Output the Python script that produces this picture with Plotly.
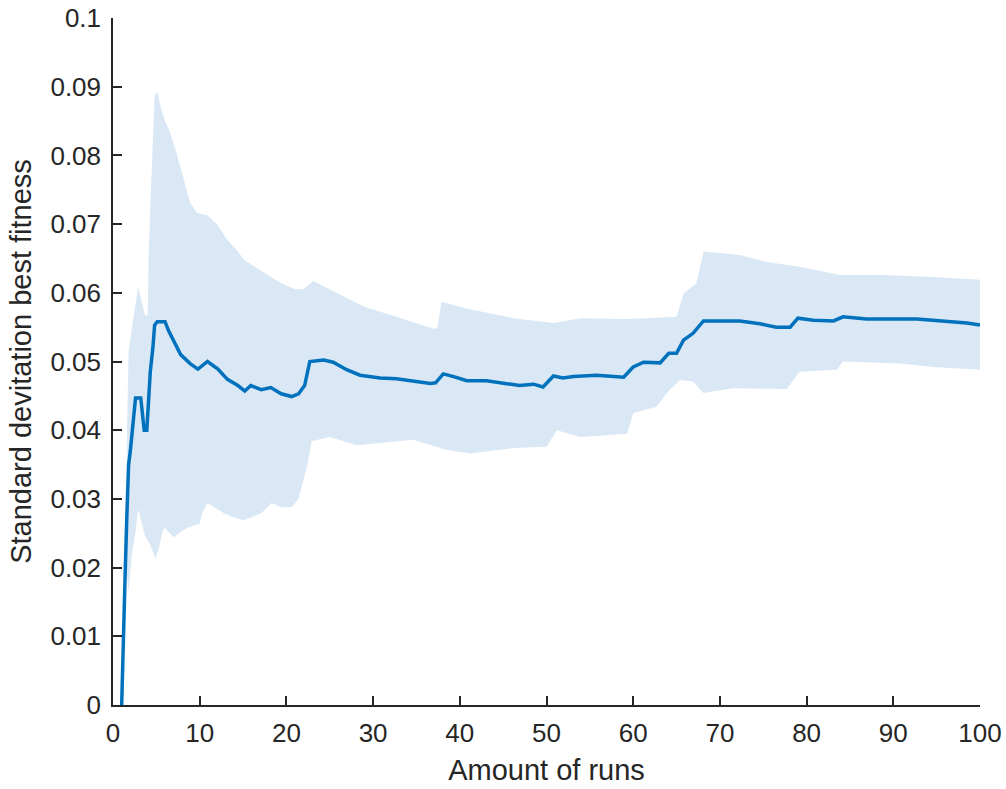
import plotly.graph_objects as go

# Mean curve
mean_x = [1.0, 1.05, 1.2, 1.4, 1.6, 1.8, 2.0, 2.2, 2.4, 2.6, 3.2, 3.4, 3.6, 3.9, 4.1, 4.3, 4.6, 4.8,
          5.1, 6.0, 6.4, 7.0, 7.8, 8.9, 9.8, 10.9, 12.1, 13.2, 14.4, 15.2, 15.9, 17.1, 18.2, 19.4,
          20.6, 21.4, 22.1, 22.7, 24.3, 25.4, 26.95, 28.5, 30.8, 32.7, 34.6, 36.6, 37.2, 38.1, 39.3,
          40.8, 43.1, 45.4, 46.9, 48.5, 49.6, 50.8, 51.9, 53.1, 55.8, 58.9, 60.0, 61.2, 63.1, 64.1,
          65.0, 65.8, 66.9, 68.1, 72.3, 74.6, 76.5, 78.1, 79.0, 80.8, 83.1, 84.2, 86.9, 92.7, 95.8,
          98.5, 100.0]
mean_y = [0.0, 0.003, 0.012, 0.019, 0.0276, 0.035, 0.037, 0.040, 0.042, 0.0447, 0.0447, 0.042, 0.040,
          0.040, 0.045, 0.0485, 0.052, 0.0553, 0.0558, 0.0558, 0.0545, 0.053, 0.051, 0.0497, 0.0489,
          0.050, 0.0489, 0.0474, 0.0465, 0.0457, 0.0465, 0.0459, 0.0462, 0.0453, 0.0449, 0.0453,
          0.0465, 0.050, 0.0502, 0.0499, 0.0488, 0.048, 0.0476, 0.0475, 0.0472, 0.0468, 0.0469,
          0.0482, 0.0478, 0.0472, 0.0472, 0.0468, 0.0465, 0.0467, 0.0463, 0.0479, 0.0476, 0.0478,
          0.048, 0.0477, 0.0492, 0.0499, 0.0498, 0.0512, 0.0512, 0.0531, 0.0541, 0.0559, 0.0559,
          0.0555, 0.055, 0.055, 0.0563, 0.056, 0.0559, 0.0565, 0.0562, 0.0562, 0.0559, 0.0556, 0.0553]

# Upper bound of the shaded band
upper_x = [1.6, 1.8, 2.2, 2.6, 2.9, 3.3, 3.7, 4.0, 4.1, 4.3, 4.5, 4.8, 5.1, 5.5, 6.0, 6.6, 7.4, 8.2,
           8.9, 9.7, 10.9, 12.1, 13.2, 14.4, 15.2, 16.7, 17.9, 19.4, 21.0, 21.95, 23.1, 25.4, 28.9,
           32.7, 36.9, 37.4, 37.9, 40.8, 46.2, 50.8, 53.9, 59.6, 65.0, 65.8, 67.3, 68.1, 72.3, 75.4,
           79.2, 83.8, 88.8, 94.6, 100.0]
upper_y = [0.039, 0.0515, 0.055, 0.0587, 0.061, 0.0587, 0.0567, 0.0567, 0.0647, 0.0725, 0.080, 0.0887,
           0.0893, 0.087, 0.085, 0.0833, 0.080, 0.0761, 0.0731, 0.0716, 0.0713, 0.0698, 0.0677, 0.066,
           0.0647, 0.0635, 0.0626, 0.0614, 0.0605, 0.0605, 0.0617, 0.0602, 0.058, 0.0565, 0.0548,
           0.0548, 0.0587, 0.0577, 0.0563, 0.0556, 0.0563, 0.0562, 0.0565, 0.0599, 0.0614, 0.066,
           0.0655, 0.0645, 0.0638, 0.0626, 0.0626, 0.0623, 0.0619]

# Lower bound of the shaded band
lower_x = [1.6, 1.8, 2.2, 2.6, 2.9, 3.3, 3.7, 4.3, 4.9, 5.3, 5.7, 6.0, 6.4, 7.0, 7.8, 8.6, 9.3, 10.0,
           10.3, 10.9, 11.7, 12.8, 14.0, 15.0, 15.9, 17.1, 18.3, 19.4, 20.6, 21.4, 21.9, 22.5, 22.9,
           25.0, 28.1, 34.6, 37.3, 38.5, 41.2, 46.2, 50.0, 51.2, 53.9, 59.3, 60.0, 62.7, 63.9, 64.2,
           65.4, 66.9, 68.1, 71.5, 77.7, 79.2, 83.5, 84.2, 90.8, 94.6, 100.0]
lower_y = [0.019, 0.0165, 0.0222, 0.0252, 0.0285, 0.0267, 0.0246, 0.0233, 0.0213, 0.0228, 0.0252,
           0.0258, 0.0252, 0.0244, 0.0252, 0.0258, 0.0261, 0.0264, 0.028, 0.0294, 0.0288, 0.0279,
           0.0273, 0.0269, 0.0273, 0.0279, 0.0294, 0.0288, 0.0288, 0.030, 0.0324, 0.0354, 0.0384,
           0.039, 0.0378, 0.0386, 0.0376, 0.0371, 0.0366, 0.0374, 0.0376, 0.040, 0.039, 0.0395,
           0.0425, 0.0434, 0.0454, 0.0459, 0.0473, 0.0471, 0.0454, 0.0461, 0.046, 0.0485, 0.0488,
           0.050, 0.0497, 0.0492, 0.0488]

x_ticks = [0, 10, 20, 30, 40, 50, 60, 70, 80, 90, 100]
x_tick_labels = ["0", "10", "20", "30", "40", "50", "60", "70", "80", "90", "100"]
y_ticks = [0, 0.01, 0.02, 0.03, 0.04, 0.05, 0.06, 0.07, 0.08, 0.09, 0.1]
y_tick_labels = ["0", "0.01", "0.02", "0.03", "0.04", "0.05", "0.06", "0.07", "0.08", "0.09", "0.1"]

AX = "#262626"
FONT = "Liberation Sans, Arial, Helvetica, sans-serif"

fig = go.Figure()
fig.add_trace(go.Scatter(
    x=upper_x + lower_x[::-1],
    y=upper_y + lower_y[::-1],
    fill="toself",
    fillcolor="rgb(218,232,245)",
    line=dict(width=0, color="rgba(0,0,0,0)"),
    mode="lines",
    hoverinfo="skip",
    showlegend=False,
))
fig.add_trace(go.Scatter(
    x=mean_x, y=mean_y, mode="lines",
    line=dict(color="#0072BD", width=3.5),
    showlegend=False,
))

fig.update_layout(
    width=1006, height=789,
    margin=dict(l=113, r=26, t=18, b=84),
    paper_bgcolor="white", plot_bgcolor="white",
    font=dict(family=FONT, color=AX, size=26),
    showlegend=False,
)
fig.update_xaxes(
    range=[0, 100], tickvals=x_ticks, ticktext=x_tick_labels,
    showline=True, linecolor=AX, linewidth=1.5, mirror=False,
    ticks="inside", ticklen=9, tickwidth=1.5, tickcolor=AX,
    showgrid=False, zeroline=False, automargin=False,
    ticklabelstandoff=4,
    tickfont=dict(size=26, color=AX),
    title=dict(text="Amount of runs", font=dict(size=29, color=AX), standoff=13),
)
fig.update_yaxes(
    range=[0, 0.1], tickvals=y_ticks, ticktext=y_tick_labels,
    showline=True, linecolor=AX, linewidth=1.5, mirror=False,
    ticks="inside", ticklen=9, tickwidth=1.5, tickcolor=AX,
    showgrid=False, zeroline=False, automargin=False,
    ticklabelstandoff=5,
    tickfont=dict(size=26, color=AX),
    title=dict(text="Standard devitation best fitness", font=dict(size=29, color=AX), standoff=10),
)

fig.write_html(
    "out.html",
    config={"displayModeBar": False},
    post_script="document.body.style.margin='0';document.body.style.overflow='hidden';",
)
